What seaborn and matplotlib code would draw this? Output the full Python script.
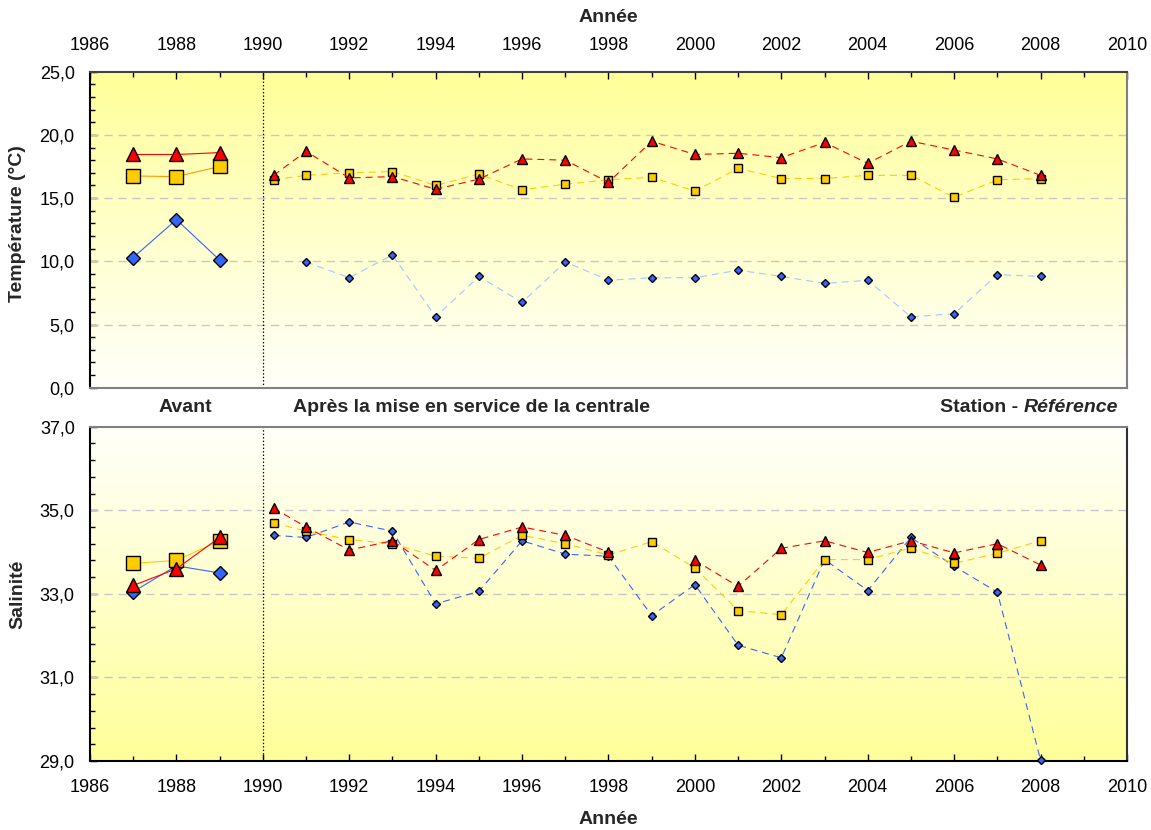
import numpy as np
import pandas as pd
import matplotlib
matplotlib.use("Agg")
import matplotlib.pyplot as plt
import seaborn as sns
from matplotlib.ticker import MultipleLocator, FixedLocator, FuncFormatter
from matplotlib.colors import LinearSegmentedColormap

# ---------------- data ----------------
years_pre = [1987, 1988, 1989]
years_post = [1990.25, 1991, 1992, 1993, 1994, 1995, 1996, 1997, 1998, 1999,
              2000, 2001, 2002, 2003, 2004, 2005, 2006, 2007, 2008]

temp_tri_pre = [18.45, 18.45, 18.6]
temp_sq_pre = [16.75, 16.7, 17.5]
temp_dia_pre = [10.3, 13.3, 10.1]

temp_tri_post = [16.8, 18.7, 16.6, 16.7, 15.7, 16.5, 18.1, 18.0, 16.25, 19.5,
                 18.45, 18.55, 18.2, 19.4, 17.75, 19.5, 18.8, 18.1, 16.8]
temp_sq_post = [16.45, 16.8, 17.0, 17.1, 16.0, 16.9, 15.65, 16.1, 16.45, 16.65,
                15.55, 17.35, 16.55, 16.55, 16.8, 16.8, 15.05, 16.45, 16.55]
temp_dia_post = [np.nan, 9.95, 8.7, 10.5, 5.6, 8.8, 6.75, 9.95, 8.5, 8.7,
                 8.7, 9.3, 8.8, 8.25, 8.5, 5.6, 5.85, 8.95, 8.8]

sal_tri_pre = [33.2, 33.6, 34.35]
sal_sq_pre = [33.73, 33.8, 34.27]
sal_dia_pre = [33.05, 33.67, 33.5]

sal_tri_post = [35.05, 34.6, 34.05, 34.27, 33.56, 34.3, 34.6, 34.4, 34.0, np.nan,
                33.8, 33.18, 34.09, 34.27, 33.99, 34.27, 33.98, 34.2, 33.69]
sal_sq_post = [34.7, 34.5, 34.3, 34.2, 33.9, 33.85, 34.4, 34.2, 33.93, 34.25,
               33.62, 32.6, 32.5, 33.82, 33.82, 34.1, 33.73, 33.97, 34.27]
sal_dia_post = [34.4, 34.35, 34.72, 34.5, 32.76, 33.06, 34.27, 33.95, 33.9, 32.48,
                33.22, 31.77, 31.47, 33.82, 33.08, 34.35, 33.66, 33.04, 29.02]

x_ticks = list(range(1986, 2011, 2))
temp_ticks = [0, 5, 10, 15, 20, 25]
sal_ticks = [29, 31, 33, 35, 37]

# ---------------- style ----------------
sns.set_theme(style="white")
plt.rcParams['font.family'] = ['Liberation Sans', 'DejaVu Sans']
plt.rcParams['lines.scale_dashes'] = False

RED, YEL, BLUE = '#FF0000', '#FFCC00', '#3366FF'
DASH = (0, (5, 3.6))
TICK_FS = 13
LAB_FS = 14

fig = plt.figure(figsize=(11.51, 8.30), dpi=100)
W, H = 1151, 830
ax1 = fig.add_axes([90 / W, 1 - 387.7 / H, 1037 / W, (387.7 - 71.7) / H])
ax2 = fig.add_axes([90 / W, 1 - 761 / H, 1037 / W, (761 - 426.7) / H])


def series(ax, x, y, mcolor, lcolor, marker, ms, ls):
    df = pd.DataFrame({'x': x, 'y': y})
    df['seg'] = df['y'].isna().cumsum()
    df = df.dropna()
    sns.lineplot(data=df, x='x', y='y', units='seg', estimator=None, sort=False,
                 color=lcolor, linestyle=ls, linewidth=0.8, marker=marker,
                 markersize=ms, markerfacecolor=mcolor, markeredgecolor='black',
                 markeredgewidth=1.0, ax=ax, legend=False, zorder=3,
                 clip_on=False)


def gradient(ax, top_yellow):
    cmap = LinearSegmentedColormap.from_list('g', ['#FFFFFB', '#FFFF99'])
    g = np.linspace(0, 1, 256).reshape(-1, 1)
    if not top_yellow:
        g = g[::-1]
    ax.imshow(g, extent=[0, 1, 0, 1], transform=ax.transAxes, aspect='auto',
              cmap=cmap, origin='lower', zorder=0, interpolation='bilinear')


fmt = FuncFormatter(lambda v, p: f"{v:.1f}".replace('.', ','))

# top panel
gradient(ax1, True)
series(ax1, years_pre, temp_dia_pre, BLUE, BLUE, 'D', 7, '-')
series(ax1, years_pre, temp_sq_pre, YEL, '#FF9900', 's', 9.5, '-')
series(ax1, years_pre, temp_tri_pre, RED, RED, '^', 9.5, '-')
series(ax1, years_post, temp_dia_post, BLUE, '#99CCFF', 'D', 4.4, DASH)
series(ax1, years_post, temp_sq_post, YEL, YEL, 's', 5.7, DASH)
series(ax1, years_post, temp_tri_post, RED, RED, '^', 7, DASH)
ax1.set_ylim(0, 25)
ax1.yaxis.set_major_locator(FixedLocator(temp_ticks))
ax1.yaxis.set_minor_locator(MultipleLocator(1))

# bottom panel
gradient(ax2, False)
series(ax2, years_pre, sal_dia_pre, BLUE, BLUE, 'D', 7, '-')
series(ax2, years_pre, sal_sq_pre, YEL, YEL, 's', 9.5, '-')
series(ax2, years_pre, sal_tri_pre, RED, RED, '^', 9.5, '-')
series(ax2, years_post, sal_dia_post, BLUE, BLUE, 'D', 4.4, DASH)
series(ax2, years_post, sal_sq_post, YEL, YEL, 's', 5.7, DASH)
series(ax2, years_post, sal_tri_post, RED, RED, '^', 7, DASH)
ax2.set_ylim(29, 37)
ax2.yaxis.set_major_locator(FixedLocator(sal_ticks))
ax2.yaxis.set_minor_locator(FixedLocator(list(np.arange(29, 37.01, 0.4))))

for ax in (ax1, ax2):
    ax.set_xlim(1986, 2010)
    ax.set_xticks(x_ticks)
    ax.xaxis.set_minor_locator(MultipleLocator(1))
    ax.yaxis.set_major_formatter(fmt)
    ax.set_xlabel('')
    ax.set_ylabel('')
    ax.grid(False)
    lo, hi = ax.get_ylim()
    for v in ax.get_yticks():
        if lo < v < hi:
            ax.axhline(v, color='#C8C8C8', lw=1.0, ls=(0, (6, 4)), zorder=1)
    ax.axvline(1990, color='black', lw=0.9, ls=(0, (1, 1.5)), zorder=2)
    ax.tick_params(axis='both', which='both', direction='in',
                   labelsize=TICK_FS, colors='black')
    ax.tick_params(axis='x', which='both', pad=13)
    ax.tick_params(axis='y', which='both', pad=11)
    ax.tick_params(which='major', length=5, width=1)
    ax.tick_params(which='minor', length=3.5, width=1)
    ax.tick_params(axis='y', which='both', left=True, right=False)
    ax.spines['left'].set_color('black')
    ax.spines['left'].set_linewidth(1.5)

ax1.tick_params(axis='x', which='both', top=True, bottom=False,
                labeltop=True, labelbottom=False)
ax1.spines['top'].set_color('#404040')
ax1.spines['right'].set_color('#808080')
ax1.spines['bottom'].set_color('#808080')
for s in ('top', 'right', 'bottom'):
    ax1.spines[s].set_linewidth(1.5)

ax2.tick_params(axis='x', which='both', top=False, bottom=True,
                labeltop=False, labelbottom=True)
ax2.spines['top'].set_color('#808080')
ax2.spines['right'].set_color('#303030')
ax2.spines['bottom'].set_color('black')
for s in ('top', 'right', 'bottom'):
    ax2.spines[s].set_linewidth(1.5)

# labels
fig.text(608.5 / W, 1 - 18 / H, 'Année', ha='center', va='center',
         fontsize=LAB_FS, fontweight='bold')
fig.text(608.5 / W, 1 - 819 / H, 'Année', ha='center', va='center',
         fontsize=LAB_FS, fontweight='bold')
fig.text(18 / W, 1 - 224 / H, 'Température (°C)', rotation=90, ha='center',
         va='center', fontsize=LAB_FS, fontweight='bold')
fig.text(18 / W, 1 - 594 / H, 'Salinité', rotation=90, ha='center',
         va='center', fontsize=LAB_FS, fontweight='bold')

ymid = 1 - 407 / H
fig.text(185 / W, ymid, 'Avant', ha='center', va='center', fontsize=LAB_FS,
         fontweight='bold')
fig.text(293 / W, ymid, 'Après la mise en service de la centrale', ha='left',
         va='center', fontsize=LAB_FS, fontweight='bold')
t_ref = fig.text(1118 / W, ymid, 'Référence', ha='right', va='center',
                 fontsize=LAB_FS, fontweight='bold', style='italic')
fig.canvas.draw()
bb = t_ref.get_window_extent(renderer=fig.canvas.get_renderer())
fig.text(bb.x0 / (fig.dpi * fig.get_figwidth()), ymid, 'Station - ', ha='right',
         va='center', fontsize=LAB_FS, fontweight='bold')

fig.savefig('out.png', dpi=100, facecolor='white')
